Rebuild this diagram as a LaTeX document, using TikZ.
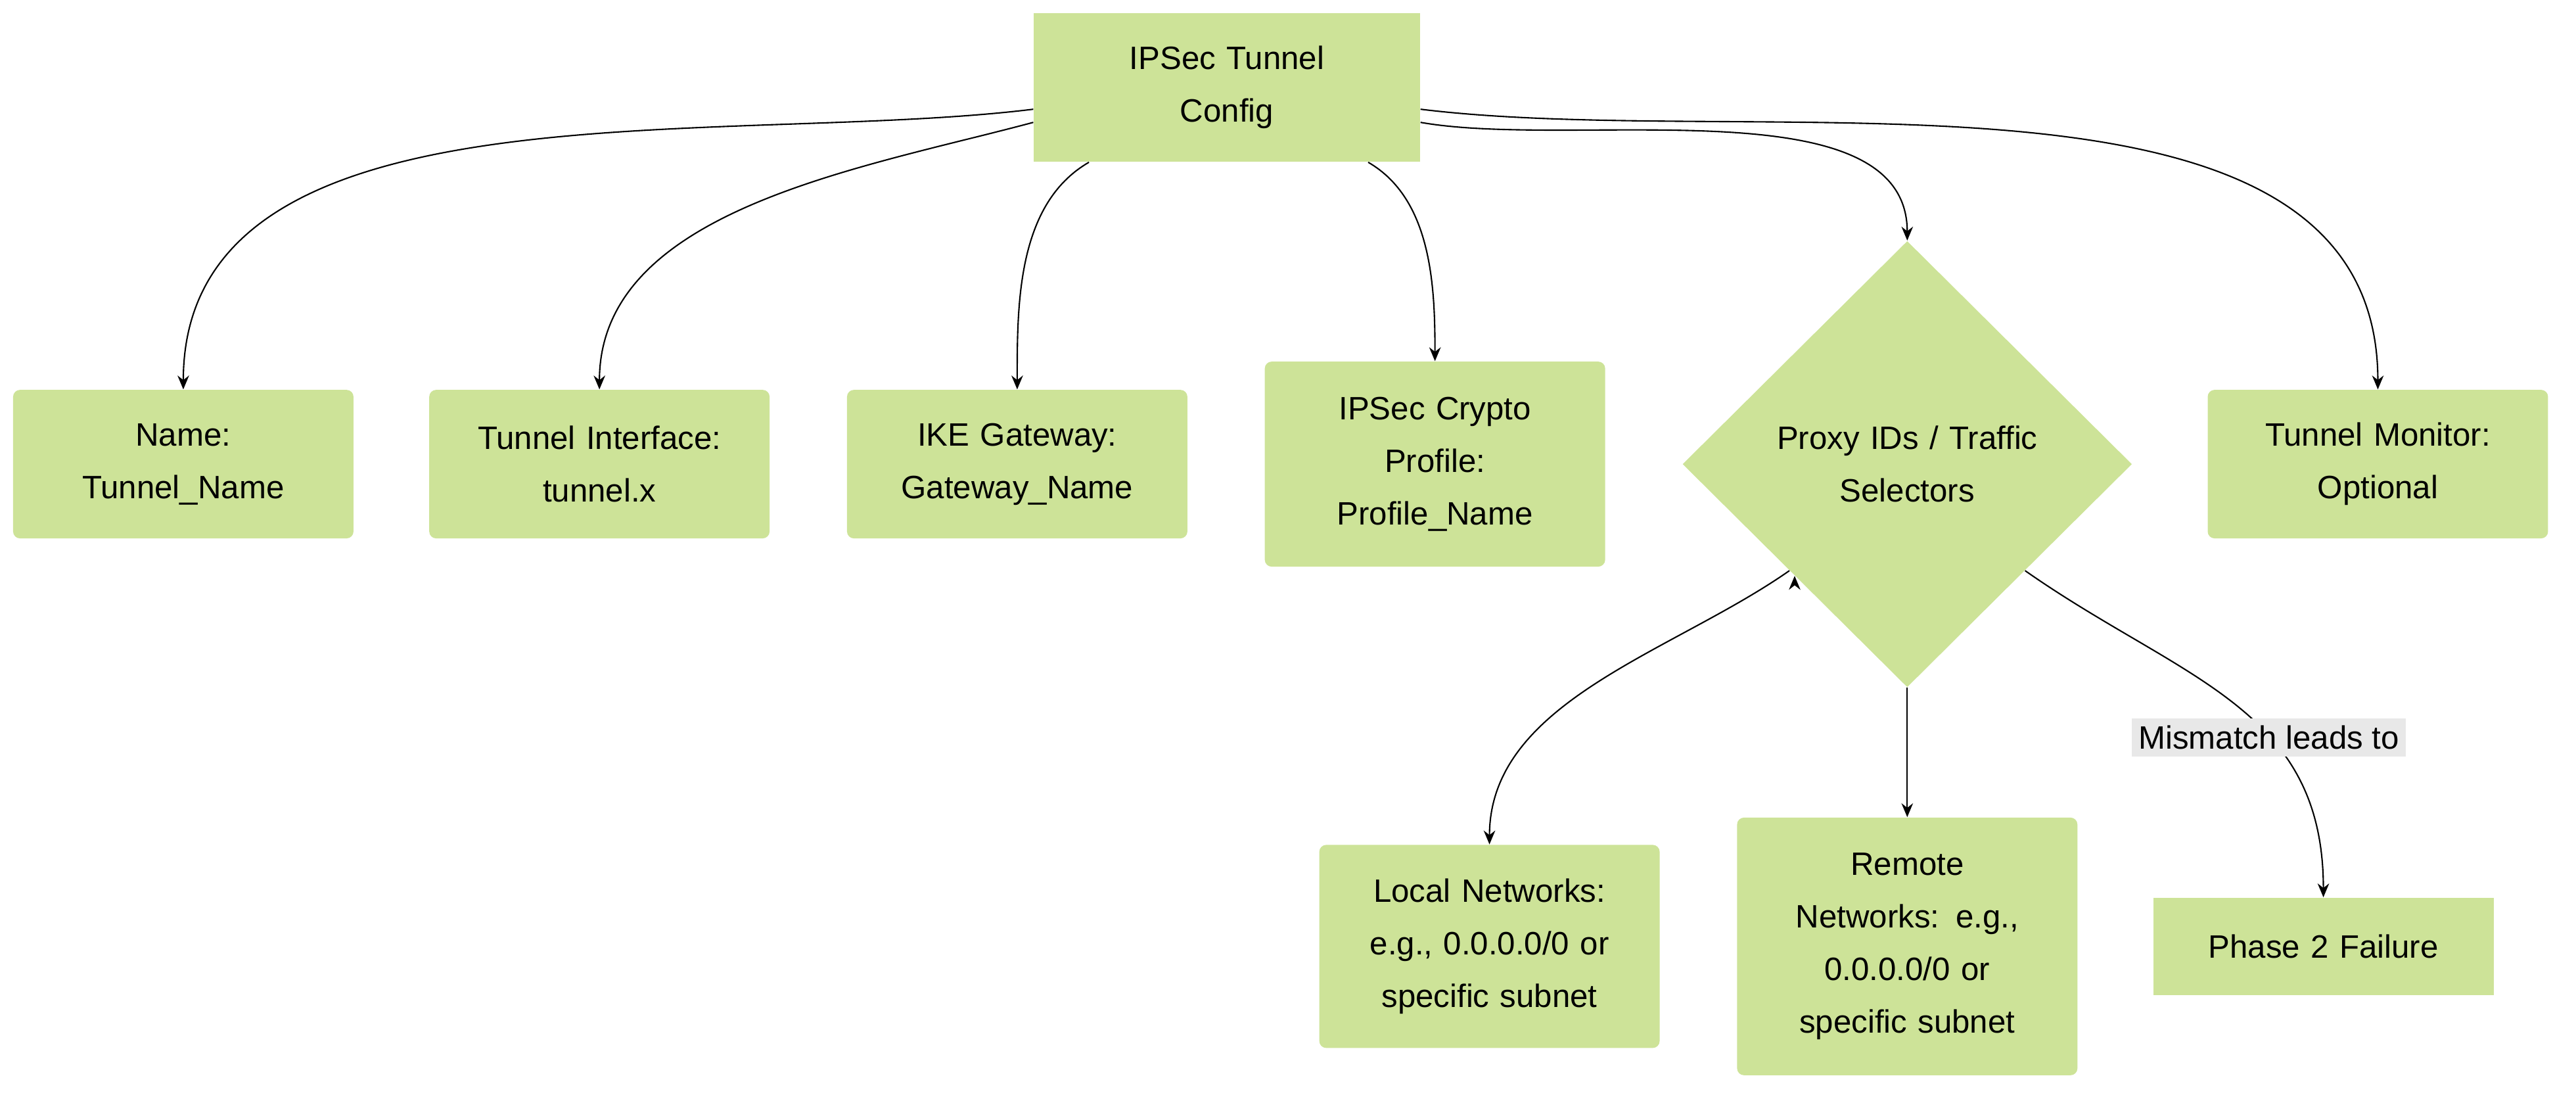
\documentclass[tikz,border=0pt]{standalone}
\usepackage{fontspec}
\setmainfont{Liberation Sans}
\usetikzlibrary{shapes.geometric,arrows.meta}
\definecolor{boxFill}{RGB}{205,227,152}
\definecolor{lblFill}{RGB}{232,232,232}
\tikzset{
  box/.style={fill=boxFill, rounded corners=3pt, minimum width=5.18cm, text width=4.7cm,
    align=center, font={\fontsize{14pt}{22.8pt}\selectfont}},
  decision/.style={diamond, fill=boxFill, minimum width=6.84cm, minimum height=6.79cm,
    inner sep=0pt, text width=4.4cm, align=center, font={\fontsize{14pt}{22.8pt}\selectfont}},
  link/.style={draw=black, line width=0.6pt, -{Stealth[length=6pt,width=5pt]}},
  lbl/.style={fill=lblFill, font={\fontsize{14pt}{16pt}\selectfont}, inner sep=3pt}
}
\begin{document}
\begin{tikzpicture}[x=0.02513cm, y=-0.02513cm]
  \useasboundingbox (0,0) rectangle (1560,665);
  % top
  \node [box, rounded corners=0pt, minimum width=5.88cm, minimum height=2.26cm] (cfg) at (743,53) {IPSec Tunnel\\Config};
  % first row
  \node [box, minimum height=2.26cm] (name) at (111,281) {Name:\\Tunnel\_Name};
  \node [box, minimum height=2.26cm] (iface) at (363,281) {Tunnel Interface:\\tunnel.x};
  \node [box, minimum height=2.26cm] (ike) at (616,281) {IKE Gateway:\\Gateway\_Name};
  \node [box, minimum height=3.12cm] (crypto) at (869,281) {IPSec Crypto\\Profile:\\Profile\_Name};
  \node [decision] (proxy) at (1155,281) {Proxy IDs / Traffic\\Selectors};
  \node [box, minimum height=2.26cm] (mon) at (1440,281) {Tunnel Monitor:\\Optional};
  % second row
  \node [box, minimum height=3.09cm] (local) at (902,573) {Local Networks:\\e.g., 0.0.0.0/0 or\\specific subnet};
  \node [box, minimum height=3.92cm] (remote) at (1155,573) {Remote\\Networks: e.g.,\\0.0.0.0/0 or\\specific subnet};
  \node [box, rounded corners=0pt, minimum height=1.48cm] (fail) at (1407,573) {Phase 2 Failure};
  % links
  \draw [link] ([yshift=-0.33cm]cfg.west) to[out=187,in=90,looseness=0.9] (name.north);
  \draw [link] ([yshift=-0.53cm]cfg.west) to[out=195,in=90,looseness=0.9] (iface.north);
  \draw [link] ([xshift=-2.1cm]cfg.south) to[out=210,in=90,looseness=0.9] (ike.north);
  \draw [link] ([xshift=2.15cm]cfg.south) to[out=-30,in=90,looseness=0.9] (crypto.north);
  \draw [link] ([yshift=-0.53cm]cfg.east) to[out=-10,in=90,looseness=0.8] (proxy.north);
  \draw [link] ([yshift=-0.33cm]cfg.east) to[out=-7,in=90,looseness=0.9] (mon.north);
  \draw [link] (proxy.south west) ++(0,0) coordinate (pl);
  \draw [link] ([xshift=-0.08cm,yshift=0.08cm]proxy.south west) to[out=-145,in=90,looseness=0.9] (local.north);
  \draw [link] (proxy.south) -- (remote.north);
  \draw [link] ([xshift=0.08cm,yshift=0.08cm]proxy.south east) to[out=-35,in=90,looseness=1.1] node [lbl, pos=0.62] {Mismatch leads to} (fail.north);
\end{tikzpicture}
\end{document}
